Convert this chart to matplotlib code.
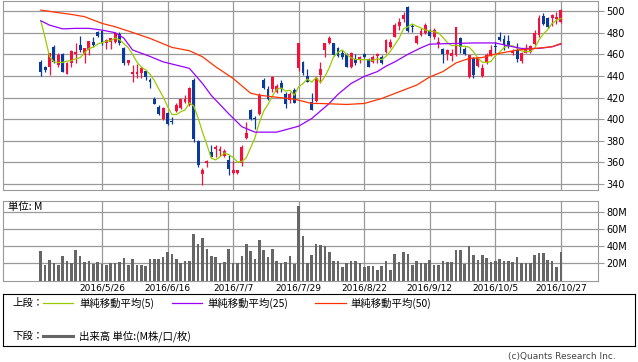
import numpy as np
import pandas as pd
import matplotlib
matplotlib.use('Agg')
import matplotlib.pyplot as plt

plt.rcParams['font.family'] = ['DejaVu Sans', 'Noto Sans CJK JP']
JP = ['Noto Sans CJK JP', 'DejaVu Sans']

# 日足 四本値 (2016/5/6 〜 2016/10/27, 営業日順)
opens = [453, 448.5, 448.5, 467, 450, 460, 442, 451.5, 460, 468.5, 459, 464, 471.5, 481,
         481.5, 470, 471.5, 471.5, 479, 465.4, 451.5, 441.7, 441.7, 442.3,
         444.8, 436, 418.5, 411.4, 400, 406, 398.5, 407.4, 410, 416,
         413, 436, 380, 349, 359, 369.8, 372.8, 370.4, 365.7, 362,
         350.3, 350.3, 359, 383, 408.3, 401.5, 405.2, 436, 427.5, 427.5,
         425.3, 433, 423, 417.6, 426.9, 447, 453, 439.8, 416, 416.7,
         440.7, 463.9, 470, 470, 465.4, 460.8, 460.2, 448.5, 455.2, 455.2,
         460.2, 455.2, 453.1, 458.3, 457.7, 462.3, 467, 476.2, 486.1, 492.3,
         504, 485.5, 470, 477.8, 479.3, 481.8, 475.6, 469.4, 464.5, 460.2,
         458.3, 459.3, 474.7, 464.5, 439.2, 456.2, 449.4, 439.8, 451.5, 459.3,
         467.6, 476.2, 473.8, 472.2, 460.8, 463.9, 454, 461.4, 462.3, 469.4,
         477.8, 495.4, 493.2, 493.2, 492.3, 490.1]
highs = [455, 449.5, 461, 468.5, 461, 460.8, 453, 464, 470, 476.9, 465.5, 472.5, 476, 482,
         482, 474, 475, 480.5, 480.5, 467, 455, 450, 451, 448.5,
         445.4, 438.3, 420.7, 413, 410.8, 406.8, 402.2, 414.5, 419, 422.8,
         429.3, 437.7, 380.6, 354.4, 362.6, 376, 376, 375.4, 372, 366.7,
         361.4, 353.4, 376, 397.5, 409, 402.8, 423.8, 437.7, 430.6, 439.8,
         432.4, 436, 425.3, 425.3, 428.4, 470.5, 454, 446, 424.4, 439.8,
         453, 470.7, 476.9, 470.7, 467, 463.9, 461.4, 462.3, 460.2, 458.3,
         460.8, 456.2, 459.3, 461.4, 459.3, 474, 473.8, 489, 493.2, 499.4,
         505, 488, 477.8, 484, 489, 483, 484, 476.2, 465.4, 464.5,
         464.5, 485.5, 475.6, 467, 459.3, 457.7, 457.7, 450.9, 460.8, 468.5,
         471.6, 480.9, 478, 478, 464.5, 470, 462.3, 469.4, 468.5, 482.4,
         496.3, 497.8, 494.2, 496.9, 499.4, 501.9]
lows = [440, 444, 441, 451.5, 448.5, 444, 442, 448.5, 451.5, 462.3, 451.5, 459, 466.5, 476,
        468.5, 465, 465, 470, 468.5, 450, 450, 434.6, 437.7, 437.7,
        436, 429, 414, 404, 399, 394.4, 395.4, 406.8, 409.3, 414.5,
        412, 379, 356, 339, 355.8, 365, 365, 366, 365, 348,
        349.7, 349.7, 356.8, 382.1, 399, 391, 403.7, 427.5, 417.6, 425.3,
        423.8, 425.3, 409.9, 415.1, 414.5, 445, 440.7, 434.6, 408.3, 416,
        433, 457.7, 469.4, 458.3, 457.7, 455.2, 448.5, 447, 450, 451.5,
        456.2, 448, 451.5, 451.5, 451, 461.4, 465.4, 475.6, 482.4, 490,
        481, 481, 469.4, 476.9, 478.7, 475.6, 473.8, 465.4, 452.2, 454.6,
        454, 458.3, 461.4, 459.3, 438.3, 438.3, 448.5, 439.2, 450.9, 458.3,
        460.8, 472.5, 463.9, 465.4, 459.3, 452.8, 452.2, 460.8, 461.4, 468.5,
        476.2, 487, 484.6, 486.1, 487.6, 489]
closes = [444, 445.5, 461, 453, 459, 444, 451.5, 463, 462, 464, 465.5, 472.5, 468.5, 477,
          470, 473, 474.7, 480, 470, 451.5, 454.6, 443.8, 443.8, 447,
          438.6, 434.6, 414, 405.2, 410, 395.4, 397.2, 413, 418.5, 418.5,
          428.4, 382, 358, 352.8, 361.4, 365.1, 374.4, 372, 370.7, 353.7,
          352.8, 352.8, 374.4, 387.3, 400, 399.7, 422.2, 428.4, 418.5, 438.6,
          430.9, 427.5, 413.9, 423, 415.4, 470, 442.3, 434.6, 408.3, 437.7,
          446, 470, 475.3, 459.3, 458.3, 457.1, 448.5, 460.8, 451.5, 457.1,
          457.1, 448.5, 457.1, 460.2, 452.2, 473.1, 471.6, 487, 490.1, 496.3,
          481.8, 485.2, 476.9, 481.5, 487, 476.9, 482.4, 471.6, 460.2, 463.9,
          461.4, 484.9, 467, 460.2, 459.3, 440.7, 456.2, 446.9, 459.3, 463.9,
          466.4, 473.1, 468.5, 467.6, 463.3, 455.2, 460.8, 465.4, 467.6, 479.9,
          493.2, 488, 485.5, 496.3, 494.8, 500.9]
volume = [34.5, 18.4, 23.9, 20.4, 18.4, 28.6, 22.4, 20.4, 35.7, 28.6, 21.6, 22.7, 19.6, 21.2,
          19.6, 18.0, 20.0, 20.0, 21.2, 26.3, 18.4, 25.1, 18.0, 18.0,
          17.3, 25.1, 25.1, 25.1, 27.8, 33.3, 31.0, 25.1, 20.0, 22.7,
          22.7, 54.5, 42.7, 50.2, 36.9, 29.0, 27.8, 20.4, 21.6, 36.9,
          20.4, 20.4, 28.6, 43.5, 34.5, 25.1, 47.5, 35.7, 27.8, 36.9,
          22.7, 20.4, 21.6, 28.6, 19.2, 87.1, 51.8, 20.4, 29.8, 43.5,
          41.6, 40.0, 33.3, 22.7, 22.7, 15.7, 20.0, 22.7, 22.7, 20.0,
          16.1, 16.9, 16.9, 12.2, 16.9, 22.7, 12.2, 31.0, 21.6, 33.3,
          31.0, 18.0, 22.7, 20.0, 20.0, 23.9, 18.0, 18.0, 22.7, 21.6,
          21.6, 35.7, 35.7, 19.6, 40.0, 29.8, 23.9, 29.8, 26.3, 21.6,
          22.7, 25.1, 22.7, 22.7, 21.6, 27.5, 20.0, 20.0, 20.0, 29.8,
          32.2, 32.2, 23.9, 22.7, 16.1, 33.3]

# 移動平均 (画面から読んだ値、日付は営業日の番号)
ma5_head = [491, 475, 458, 453]
ma25_day = [0, 2, 5, 8, 11, 14, 17, 19, 21, 25, 28, 34, 37, 39, 43, 46, 49, 54, 59, 62,
            66, 68, 71, 74, 77, 79, 81, 84, 87, 89, 99, 104, 108, 110, 114, 117, 119]
ma25_val = [491, 487, 483.5, 484, 484, 482.4, 480, 475, 464, 458, 453, 447, 433, 422,
            405, 393, 388, 388, 393.5, 400.6, 414.5, 423, 433, 439.5, 444, 449, 453,
            460, 466, 469.4, 470.5, 470.5, 467, 465.4, 465.4, 467, 469.4]
ma50_day = [0, 4, 7, 10, 14, 17, 21, 25, 30, 34, 37, 40, 44, 48, 50, 53, 58, 62, 64, 70,
            74, 78, 83, 86, 89, 92, 95, 98, 101, 104, 109, 113, 117, 119]
ma50_val = [500.9, 498.5, 496.9, 494.8, 488.6, 485.5, 480.2, 474.7, 466.4, 463.3, 457.7,
            448.5, 437.7, 424, 422.2, 420.7, 418.5, 414.5, 414.5, 413.6, 414.5, 419.1,
            426.9, 431.5, 439, 444, 452, 456.2, 457, 460.2, 463.9, 465.4, 467, 470]

date_pos = [14, 29, 44, 59, 74, 89, 104, 119]
date_labels = ['2016/5/26', '2016/6/16', '2016/7/7', '2016/7/29',
               '2016/8/22', '2016/9/12', '2016/10/5', '2016/10/27']
price_ticks = [340, 360, 380, 400, 420, 440, 460, 480, 500]
vol_ticks = [20, 40, 60, 80]
vol_labels = ['20M', '40M', '60M', '80M']

o = np.array(opens); h = np.array(highs); l = np.array(lows); c = np.array(closes)
x = np.arange(len(c))
up = c >= o
col = np.where(up, '#f5103c', '#0a3a9a')

ma5 = pd.Series(c).rolling(5).mean().values
ma5[:4] = ma5_head

W, H = 638, 362
fig = plt.figure(figsize=(W / 100, H / 100), dpi=100)
grid_c = '#999999'
xl = (14 - 22.65, 14 + 113.5)

def px_axes(x0, y0, x1, y1):
    return fig.add_axes([x0 / W, 1 - y1 / H, (x1 - x0) / W, (y1 - y0) / H])

# 上段
ax = px_axes(3, 1, 598, 190.3)
ax.set_xlim(*xl)
ax.set_ylim(334.2, 509.3)
ax.set_yticks(price_ticks)
ax.set_xticks(date_pos)
ax.set_xticklabels([])
ax.yaxis.tick_right()
ax.tick_params(axis='y', length=4, color=grid_c, labelsize=7, pad=2)
ax.tick_params(axis='x', length=0)
ax.grid(True, color=grid_c, lw=0.9)
ax.set_axisbelow(True)
for s in ax.spines.values():
    s.set_color(grid_c)

ax.vlines(x, l, h, color=col, lw=0.9, zorder=2)
body = np.maximum(np.abs(c - o), 0.8)
ax.bar(x, body, bottom=np.minimum(o, c), width=0.66, color=col, zorder=3)

ax.plot(x, ma5, color='#99cc00', lw=0.9, zorder=4)
ax.plot(ma25_day, ma25_val, color='#9900ff', lw=0.9, zorder=4)
ax.plot(ma50_day, ma50_val, color='#ff3300', lw=0.9, zorder=4)

# 下段
av = px_axes(3, 201, 598, 280.5)
av.set_xlim(*xl)
av.set_ylim(0, 93.5)
av.set_yticks(vol_ticks)
av.set_yticklabels(vol_labels)
av.yaxis.tick_right()
av.set_xticks(date_pos)
av.set_xticklabels(date_labels, fontsize=6.5)
av.tick_params(axis='y', length=4, color=grid_c, labelsize=7, pad=2)
av.tick_params(axis='x', length=0, pad=2)
av.grid(True, color=grid_c, lw=0.9)
av.set_axisbelow(True)
for s in av.spines.values():
    s.set_color(grid_c)
av.bar(x, volume, width=0.6, color='#666666', zorder=3)
av.text(5 / 595, 0.93, '単位: M', transform=av.transAxes, fontsize=7.5,
        family=JP, va='center', ha='left')

# 凡例
lg = px_axes(3, 294, 635, 346)
lg.set_xlim(3, 635)
lg.set_ylim(346, 294)
lg.set_xticks([]); lg.set_yticks([])
for s in lg.spines.values():
    s.set_color('black')
    s.set_linewidth(0.8)
y1, y2 = 303, 336
lg.text(12, y1, '上段：', fontsize=7.5, family=JP, va='center')
lg.plot([43, 73], [y1, y1], color='#99cc00', lw=0.9)
lg.text(79, y1, '単純移動平均(5)', fontsize=7.5, family=JP, va='center')
lg.plot([172, 202], [y1, y1], color='#9900ff', lw=0.9)
lg.text(207, y1, '単純移動平均(25)', fontsize=7.5, family=JP, va='center')
lg.plot([315, 346], [y1, y1], color='#ff3300', lw=0.9)
lg.text(350, y1, '単純移動平均(50)', fontsize=7.5, family=JP, va='center')
lg.text(12, y2, '下段：', fontsize=7.5, family=JP, va='center')
lg.plot([43, 73], [y2, y2], color='#666666', lw=2.2)
lg.text(79, y2, '出来高 単位:(M株/口/枚)', fontsize=7.5, family=JP, va='center')

fig.text(616 / W, 1 - 357 / H, '(c)Quants Research Inc.', fontsize=6.5,
         color='#444444', ha='right', va='center')

fig.savefig('out.png', dpi=100)
